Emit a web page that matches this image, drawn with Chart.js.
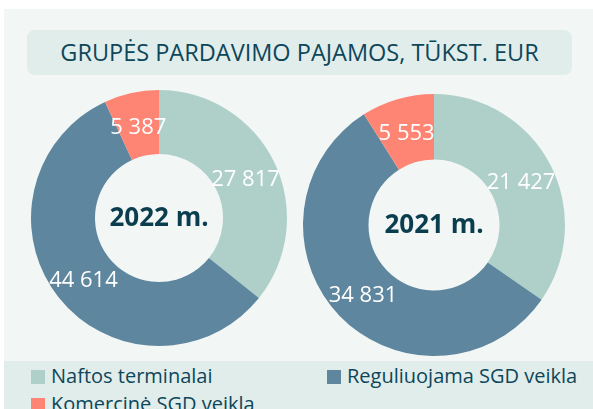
<!DOCTYPE html>
<html>
<head>
<meta charset="utf-8">
<script src="https://cdn.jsdelivr.net/npm/chart.js@4"></script>
<style>
  body { margin: 0; width: 593px; height: 409px; background: #fff; overflow: hidden; font-family: "Open Sans", sans-serif; }
  #panel { position: absolute; left: 4px; top: 9px; width: 589px; height: 352px; background: #f2f6f5; }
  #title { position: absolute; left: 27px; top: 30px; width: 545px; height: 45px; background: #e1edeb; border-radius: 8px;
           color: #0d4659; font-size: 23.5px; line-height: 45px; text-align: center; }
  #legend { position: absolute; left: 4px; top: 361px; width: 589px; height: 48px; background: #e1edeb; }
  .item { position: absolute; color: #0d4659; font-size: 20px; line-height: 20px; white-space: nowrap; }
  .item span { display: inline-block; width: 14px; height: 14px; margin-right: 6px; vertical-align: -1px; }
  canvas { position: absolute; }
</style>
</head>
<body>
<div id="panel"></div>
<div id="title">GRUPĖS PARDAVIMO PAJAMOS, TŪKST. EUR</div>
<canvas id="chart-2022" width="270" height="270" style="left:24px; top:83px;"></canvas>
<canvas id="chart-2021" width="270" height="270" style="left:299px; top:90px;"></canvas>
<div id="legend"></div>
<script>
const categories = ["Naftos terminalai", "Reguliuojama SGD veikla", "Komercinė SGD veikla"];
const colors = ["#afd0c9", "#5e869e", "#fe8573"];
const values2022 = [27817, 44614, 5387];
const values2021 = [21427, 34831, 5553];
const years = ["2022 m.", "2021 m."];

function formatNumber(v) {
  return String(v).replace(/\B(?=(\d{3})+(?!\d))/g, " ");
}

// draws the value of each slice in the middle of its ring segment
const sliceLabels = {
  id: "sliceLabels",
  afterDatasetsDraw(chart) {
    const ctx = chart.ctx;
    const meta = chart.getDatasetMeta(0);
    ctx.save();
    ctx.font = "22px 'Open Sans'";
    ctx.fillStyle = "#ffffff";
    ctx.textAlign = "center";
    ctx.textBaseline = "middle";
    meta.data.forEach((arc, i) => {
      const pos = arc.tooltipPosition();
      ctx.fillText(formatNumber(chart.data.datasets[0].data[i]), pos.x, pos.y + 3);
    });
    ctx.restore();
  }
};

const centerText = {
  id: "centerText",
  afterDraw(chart) {
    const ctx = chart.ctx;
    const arc = chart.getDatasetMeta(0).data[0];
    ctx.save();
    ctx.font = "bold 26px 'Open Sans'";
    ctx.fillStyle = "#0a3d4e";
    ctx.textAlign = "center";
    ctx.textBaseline = "middle";
    ctx.fillText(chart.options.plugins.centerText.text, arc.x, arc.y + 1);
    ctx.restore();
  }
};

function makeChart(id, values, year, radius) {
  const ctx = document.getElementById(id).getContext("2d");
  return new Chart(ctx, {
    type: "doughnut",
    data: {
      labels: categories,
      datasets: [{
        data: values,
        backgroundColor: colors,
        borderWidth: 0
      }]
    },
    options: {
      responsive: false,
      animation: false,
      radius: radius,
      cutout: "50%",
      layout: { padding: 0 },
      plugins: {
        legend: { display: false },
        tooltip: { enabled: false },
        centerText: { text: year }
      }
    },
    plugins: [sliceLabels, centerText]
  });
}

makeChart("chart-2022", values2022, years[0], 128);
makeChart("chart-2021", values2021, years[1], 131);

const legendPos = [[31, 366], [327, 366], [31, 394]];
const legend = document.getElementById("legend");
categories.forEach((name, i) => {
  const div = document.createElement("div");
  div.className = "item";
  div.style.left = (legendPos[i][0] - 4) + "px";
  div.style.top = (legendPos[i][1] - 361) + "px";
  div.innerHTML = '<span style="background:' + colors[i] + '"></span>' + name;
  legend.appendChild(div);
});
</script>
</body>
</html>
